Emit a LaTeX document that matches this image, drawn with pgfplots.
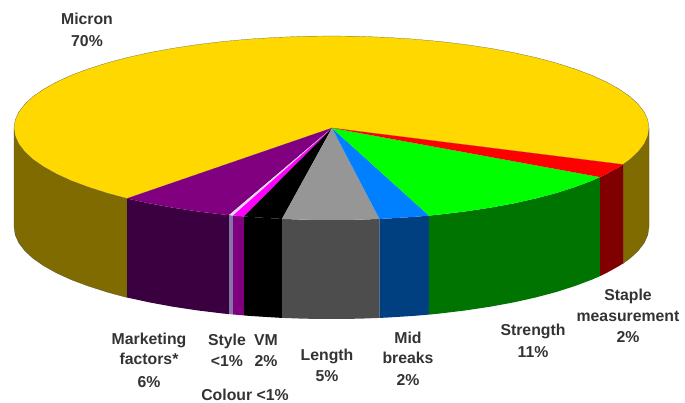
\documentclass[border=0pt]{standalone}
\usepackage{pgfplots}
\pgfplotsset{compat=1.18}
\usepackage{fontspec}
\setmainfont{Liberation Sans}
\definecolor{cYel}{HTML}{FFD800}\definecolor{dYel}{HTML}{7F6B00}
\definecolor{cPur}{HTML}{800080}\definecolor{dPur}{HTML}{3A0040}
\definecolor{cSli}{HTML}{E4D8EC}\definecolor{dSli}{HTML}{8474A8}
\definecolor{cMag}{HTML}{FF00FF}\definecolor{dMag}{HTML}{800080}
\definecolor{cGry}{HTML}{969696}\definecolor{dGry}{HTML}{4D4D4D}
\definecolor{cBlu}{HTML}{0080FF}\definecolor{dBlu}{HTML}{004080}
\definecolor{cGrn}{HTML}{00FF00}\definecolor{dGrn}{HTML}{007400}
\definecolor{cRed}{HTML}{FF0000}\definecolor{dRed}{HTML}{800000}
\definecolor{txt}{HTML}{333333}
\tikzset{lab/.style={font=\fontsize{15.8}{15.8}\selectfont\bfseries, text=txt, anchor=base, inner sep=0pt}}
\begin{document}
\begin{tikzpicture}
\begin{axis}[
  hide axis, scale only axis, width=685pt, height=403pt,
  xmin=0, xmax=685, ymin=0, ymax=403, y dir=reverse,
  clip=false,
]
% keep the page as large as the reference
\path (axis cs:0,0) rectangle (axis cs:685,403);
% side walls, pixel coordinates of the reference
\addplot[fill=dYel, draw=black!70, very thin] coordinates {(14,128) (15.2,136) (18.8,144) (24.8,151.8) (33.1,159.5) (43.8,166.9) (56.5,174) (71.4,180.8) (88.3,187.1) (107,193.1) (127,198.5) (127,297.5) (107,292.1) (88.3,286.1) (71.4,279.8) (56.5,273) (43.8,265.9) (33.1,258.5) (24.8,250.8) (18.8,243) (15.2,235) (14,227) (14,128)};
\addplot[fill=dYel, draw=black!70, very thin] coordinates {(623,164.5) (629.9,159.5) (638.2,151.8) (644.2,144) (647.8,136) (649,128) (649,227) (647.8,235) (644.2,243) (638.2,250.8) (629.9,258.5) (623,263.5) (623,164.5)};
\addplot[fill=dPur, draw=none] coordinates {(127,198.5) (149.4,203.4) (172.8,207.7) (197.3,211.4) (222.9,214.5) (229,215.1) (229,314.1) (222.9,313.5) (197.3,310.4) (172.8,306.7) (149.4,302.4) (127,297.5) (127,198.5)};
\addplot[fill=dSli, draw=none] coordinates {(229,215.1) (233,215.5) (233,314.5) (229,314.1) (229,215.1)};
\addplot[fill=dMag, draw=none] coordinates {(233,215.5) (244,216.4) (244,315.4) (233,314.5) (233,215.5)};
\addplot[fill=black, draw=none] coordinates {(244,216.4) (249.3,216.9) (276.4,218.6) (282,218.9) (282,317.9) (276.4,317.6) (249.3,315.9) (244,315.4) (244,216.4)};
\addplot[fill=dGry, draw=none] coordinates {(282,218.9) (303.8,219.7) (331.5,220) (359.2,219.7) (379.5,218.9) (379.5,317.9) (359.2,318.7) (331.5,319) (303.8,318.7) (282,317.9) (282,218.9)};
\addplot[fill=dBlu, draw=none] coordinates {(379.5,218.9) (386.6,218.6) (413.7,216.9) (429,215.6) (429,314.6) (413.7,315.9) (386.6,317.6) (379.5,317.9) (379.5,218.9)};
\addplot[fill=dGrn, draw=none] coordinates {(429,215.6) (440.1,214.5) (465.7,211.4) (490.3,207.7) (513.6,203.4) (535.6,198.5) (556,193.1) (574.7,187.1) (591.6,180.8) (600,177.1) (600,276.1) (591.6,279.8) (574.7,286.1) (556,292.1) (535.6,297.5) (513.6,302.4) (490.3,306.7) (465.7,310.4) (440.1,313.5) (429,314.6) (429,215.6)};
\addplot[fill=dRed, draw=none] coordinates {(600,177.1) (606.5,174) (619.2,166.9) (623,164.5) (623,263.5) (619.2,265.9) (606.5,273) (600,276.1) (600,177.1)};
% top face
\addplot[fill=cYel, draw=black!70, very thin] coordinates {(332,128) (623,164.5) (629.9,159.5) (638.2,151.8) (644.2,144) (647.8,136) (649,128) (647.8,120) (644.2,112) (638.2,104.2) (629.9,96.5) (619.2,89.1) (606.5,82) (591.6,75.2) (574.7,68.9) (556,62.9) (535.6,57.5) (513.6,52.6) (490.3,48.3) (465.7,44.6) (440.1,41.5) (413.7,39.1) (386.6,37.4) (359.2,36.3) (331.5,36) (303.8,36.3) (276.4,37.4) (249.3,39.1) (222.9,41.5) (197.3,44.6) (172.8,48.3) (149.4,52.6) (127.4,57.5) (107,62.9) (88.3,68.9) (71.4,75.2) (56.5,82) (43.8,89.1) (33.1,96.5) (24.8,104.2) (18.8,112) (15.2,120) (14,128) (15.2,136) (18.8,144) (24.8,151.8) (33.1,159.5) (43.8,166.9) (56.5,174) (71.4,180.8) (88.3,187.1) (107,193.1) (127,198.5) (332,128)};
\addplot[fill=cPur, draw=none] coordinates {(332,128) (127,198.5) (149.4,203.4) (172.8,207.7) (197.3,211.4) (222.9,214.5) (229,215.1) (332,128)};
\addplot[fill=cSli, draw=none] coordinates {(332,128) (229,215.1) (233,215.5) (332,128)};
\addplot[fill=cMag, draw=none] coordinates {(332,128) (233,215.5) (244,216.4) (332,128)};
\addplot[fill=black, draw=none] coordinates {(332,128) (244,216.4) (249.3,216.9) (276.4,218.6) (282,218.9) (332,128)};
\addplot[fill=cGry, draw=none] coordinates {(332,128) (282,218.9) (303.8,219.7) (331.5,220) (359.2,219.7) (379.5,218.9) (332,128)};
\addplot[fill=cBlu, draw=none] coordinates {(332,128) (379.5,218.9) (386.6,218.6) (413.7,216.9) (429,215.6) (332,128)};
\addplot[fill=cGrn, draw=none] coordinates {(332,128) (429,215.6) (440.1,214.5) (465.7,211.4) (490.3,207.7) (513.6,203.4) (535.6,198.5) (556,193.1) (574.7,187.1) (591.6,180.8) (600,177.1) (332,128)};
\addplot[fill=cRed, draw=none] coordinates {(332,128) (600,177.1) (606.5,174) (619.2,166.9) (623,164.5) (332,128)};
% labels
\node[lab] at (axis cs:87,24.5) {Micron};
\node[lab] at (axis cs:87,46.5) {70\%};
\node[lab] at (axis cs:149,344.5) {Marketing};
\node[lab] at (axis cs:149,364.5) {factors*};
\node[lab] at (axis cs:149,387.5) {6\%};
\node[lab] at (axis cs:227,345.5) {Style};
\node[lab] at (axis cs:227,366.5) {<1\%};
\node[lab] at (axis cs:266,345.5) {VM};
\node[lab] at (axis cs:266,366.5) {2\%};
\node[lab] at (axis cs:245,400.5) {Colour <1\%};
\node[lab] at (axis cs:327,360.5) {Length};
\node[lab] at (axis cs:327,381.5) {5\%};
\node[lab] at (axis cs:408,343.5) {Mid};
\node[lab] at (axis cs:408,363.5) {breaks};
\node[lab] at (axis cs:408,385.5) {2\%};
\node[lab] at (axis cs:533,335.5) {Strength};
\node[lab] at (axis cs:533,357.5) {11\%};
\node[lab] at (axis cs:628,300.5) {Staple};
\node[lab] at (axis cs:628,321.5) {measurement};
\node[lab] at (axis cs:628,342.5) {2\%};
\end{axis}
\end{tikzpicture}
\end{document}
